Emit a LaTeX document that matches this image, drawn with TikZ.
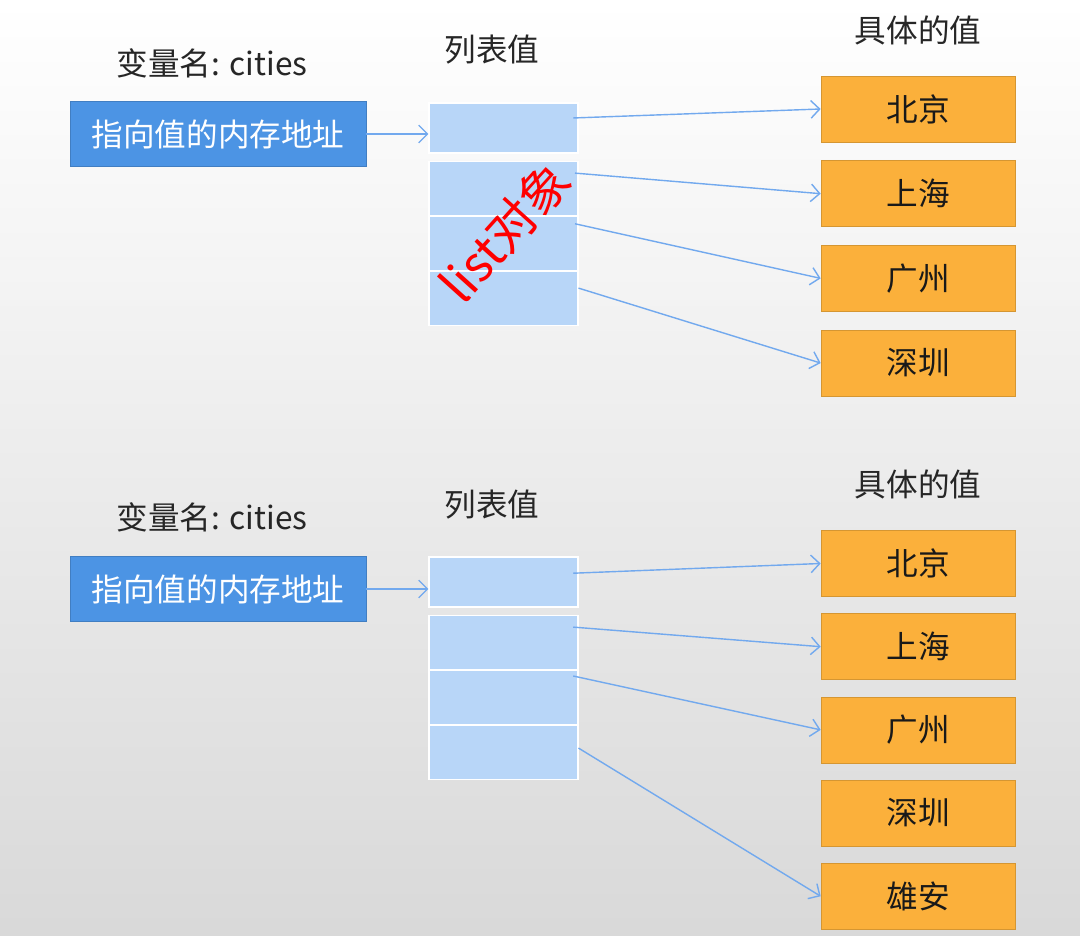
\documentclass[tikz,border=0pt]{standalone}
\usepackage{fontspec}
\setmainfont{Noto Sans CJK SC}
\usepackage{xcolor}
\usetikzlibrary{positioning, arrows.meta}

\definecolor{addrblue}{HTML}{4C94E4}
\definecolor{cellblue}{HTML}{B8D6F8}
\definecolor{cityorange}{HTML}{FBB03B}
\definecolor{ptrblue}{HTML}{72A9EE}

\begin{document}
\begin{tikzpicture}[x=0.02cm, y=-0.02cm, font=\fontsize{18}{20}\selectfont,
    addr/.style={draw=addrblue!85!black, fill=addrblue, text=white, minimum width=5.92cm, minimum height=1.3cm, inner sep=0pt},
    cell/.style={draw=white, line width=0.6pt, fill=cellblue, minimum width=2.98cm, minimum height=1.08cm, inner sep=0pt},
    city/.style={draw=cityorange!85!black, fill=cityorange, text=black!90, minimum width=3.88cm, minimum height=1.32cm, inner sep=0pt},
    title/.style={text=black!85},
    ptr/.style={ptrblue, line width=0.8pt, -{Straight Barb[length=5pt, width=10pt]}}]
    \useasboundingbox (0,0) rectangle (1080,936);
    \shade[top color=white, middle color=black!4, bottom color=black!15] (0,0) rectangle (1080,936);

    % first picture
    \node[title] (var1) at (212,63) {变量名: cities};
    \node[addr] (addr1) at (218,134) {指向值的内存地址};
    \node[title] (lst1) at (492,50) {列表值};
    \node[title] (val1) at (918,30) {具体的值};
    \node[cell, minimum height=1cm] (c11) at (503.5,128) {};
    \node[cell, below=0.14cm of c11] (c12) {};
    \node[cell, below=0pt of c12] (c13) {};
    \node[cell, below=0pt of c13] (c14) {};
    \node[city] (bj1) at (918,109) {北京};
    \node[city, below=0.36cm of bj1] (sh1) {上海};
    \node[city, below=0.36cm of sh1] (gz1) {广州};
    \node[city, below=0.36cm of gz1] (sz1) {深圳};
    \node[red, rotate=48, font=\fontsize{28}{30}\selectfont] (tag) at (505,232) {list对象};

    \path[ptr]
        (addr1.east) edge (addr1.east -| c11.west)
        ([xshift=-3pt, yshift=5.7pt]c11.east) edge (bj1.west)
        ([xshift=-2pt, yshift=8.5pt]c12.east) edge (sh1.west)
        ([xshift=-2pt, yshift=11pt]c13.east) edge (gz1.west)
        ([yshift=5.7pt]c14.east) edge (sz1.west);

    % second picture
    \node[title] (var2) at (212,517) {变量名: cities};
    \node[addr] (addr2) at (218,589) {指向值的内存地址};
    \node[title] (lst2) at (492,505) {列表值};
    \node[title] (val2) at (918,484) {具体的值};
    \node[cell, minimum height=1cm] (c21) at (503.5,582) {};
    \node[cell, below=0.14cm of c21] (c22) {};
    \node[cell, below=0pt of c22] (c23) {};
    \node[cell, below=0pt of c23] (c24) {};
    \node[city] (bj2) at (918,563.5) {北京};
    \node[city, below=0.33cm of bj2] (sh2) {上海};
    \node[city, below=0.33cm of sh2] (gz2) {广州};
    \node[city, below=0.33cm of gz2] (sz2) {深圳};
    \node[city, below=0.33cm of sz2] (xa2) {雄安};

    \path[ptr]
        (addr2.east) edge (addr2.east -| c21.west)
        ([xshift=-3pt, yshift=5pt]c21.east) edge (bj2.west)
        ([xshift=-3pt, yshift=8.5pt]c22.east) edge (sh2.west)
        ([xshift=-3pt, yshift=12pt]c23.east) edge (gz2.west)
        ([yshift=2.3pt]c24.east) edge (xa2.west);
\end{tikzpicture}
\end{document}
